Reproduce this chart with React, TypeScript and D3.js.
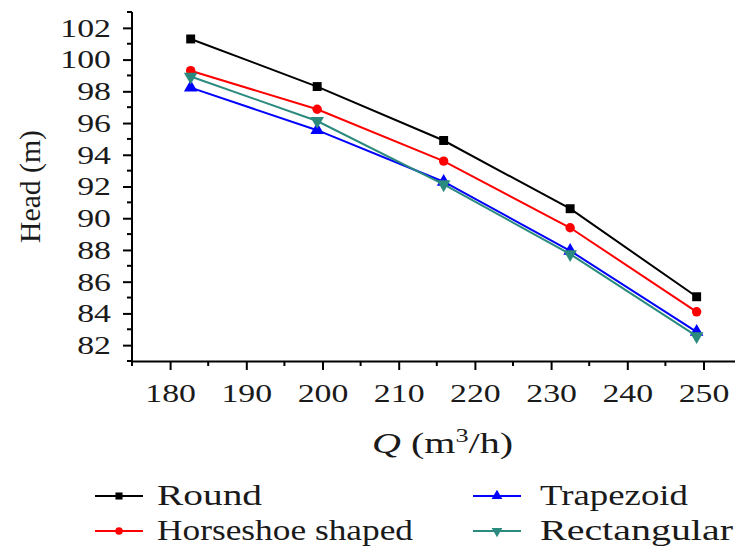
import React, { useRef, useEffect } from "react";
import * as d3 from "d3";

const W = 735;
const H = 547;

// flow rate Q (m3/h)
const flows = [182.7, 199.3, 215.9, 232.5, 249.1];

const seriesNames = ["Round", "Horseshoe shaped", "Trapezoid", "Rectangular"];
const roundHead = [101.3, 98.3, 94.9, 90.6, 85.05];
const horseshoeHead = [99.3, 96.87, 93.6, 89.4, 84.1];
const trapezoidHead = [98.23, 95.55, 92.3, 87.95, 82.84];
const rectangularHead = [98.93, 96.13, 92.14, 87.74, 82.57];

const xTicks = [180, 190, 200, 210, 220, 230, 240, 250];
const yTicks = [82, 84, 86, 88, 90, 92, 94, 96, 98, 100, 102];

const COLORS = ["#000000", "#ff0000", "#0000ff", "#2b8a7e"];
const SYMBOLS = [d3.symbolSquare, d3.symbolCircle, d3.symbolTriangle, d3.symbolTriangle];
const FONT = "'Liberation Serif', 'Times New Roman', serif";
const STRETCH = 1.3; // the reference type is wider than Times
// widths of the legend labels as they appear in the reference
const LEGEND_TEXT_W = [105, 256, 148, 193];

export default function App() {
  const svgRef = useRef<SVGSVGElement>(null);

  useEffect(() => {
    const svg = d3.select(svgRef.current);
    svg.selectAll("*").remove();

    const x = d3.scaleLinear().domain([175, 255]).range([132, 741.6]);
    const y = d3.scaleLinear().domain([81, 103]).range([361, 12]);

    const series = [roundHead, horseshoeHead, trapezoidHead, rectangularHead].map((vals, i) => ({
      name: seriesNames[i],
      color: COLORS[i],
      symbol: SYMBOLS[i],
      flip: i === 3,
      points: vals.map((v, j) => ({ q: flows[j], h: v })),
    }));

    // minor ticks
    const minorY = d3.range(81, 104, 2);
    const minorX = d3.range(175, 256, 10);

    svg
      .append("g")
      .selectAll("line")
      .data(minorY)
      .join("line")
      .attr("x1", 127)
      .attr("x2", 132)
      .attr("y1", (d) => y(d))
      .attr("y2", (d) => y(d))
      .attr("stroke", "#000")
      .attr("stroke-width", 2);

    svg
      .append("g")
      .selectAll("line")
      .data(minorX)
      .join("line")
      .attr("x1", (d) => x(d))
      .attr("x2", (d) => x(d))
      .attr("y1", 361)
      .attr("y2", 366)
      .attr("stroke", "#000")
      .attr("stroke-width", 2);

    // axes
    const yAxis = svg
      .append("g")
      .attr("transform", `translate(132,0)`)
      .call(d3.axisLeft(y).tickValues(yTicks).tickSize(9).tickPadding(12).tickSizeOuter(0));
    const xAxis = svg
      .append("g")
      .attr("transform", `translate(0,361)`)
      .call(d3.axisBottom(x).tickValues(xTicks).tickSize(9).tickPadding(14).tickSizeOuter(0));

    [yAxis, xAxis].forEach((ax) => {
      ax.select(".domain").attr("stroke", "#000").attr("stroke-width", 2);
      ax.selectAll(".tick line").attr("stroke", "#000").attr("stroke-width", 2);
      ax.selectAll("text")
        .attr("font-family", FONT)
        .attr("font-size", 26)
        .attr("fill", "#1a1a1a")
        .classed("stretch", true);
    });
    yAxis.select(".domain").attr("d", `M0,${y(81)}V${y(103)}`);

    // lines and markers
    const line = d3
      .line<{ q: number; h: number }>()
      .x((d) => x(d.q))
      .y((d) => y(d.h));

    series.forEach((s) => {
      svg
        .append("path")
        .datum(s.points)
        .attr("d", line)
        .attr("fill", "none")
        .attr("stroke", s.color)
        .attr("stroke-width", 2);
      svg
        .append("g")
        .selectAll("path")
        .data(s.points)
        .join("path")
        .attr("d", d3.symbol(s.symbol, s.symbol === d3.symbolCircle ? 70 : 80)())
        .attr("transform", (d) => `translate(${x(d.q)},${y(d.h)})${s.flip ? " rotate(180)" : ""}`)
        .attr("fill", s.color);
    });

    // axis titles
    svg
      .append("g")
      .attr("transform", "translate(40,243) rotate(-90)")
      .append("text")
      .attr("x", 0)
      .attr("y", 0)
      .style("font-family", FONT)
      .style("font-size", "30px")
      .attr("fill", "#1a1a1a")
      .attr("textLength", 113)
      .attr("lengthAdjust", "spacingAndGlyphs")
      .text("Head (m)");

    const xt = svg
      .append("text")
      .attr("x", 372)
      .attr("y", 453)
      .attr("font-family", FONT)
      .attr("font-size", 29)
      .attr("fill", "#1a1a1a")
      .attr("textLength", 141)
      .attr("lengthAdjust", "spacingAndGlyphs");
    xt.append("tspan").attr("font-style", "italic").text("Q");
    xt.append("tspan").text(" (m");
    xt.append("tspan").attr("font-size", 19).attr("dy", -11).text("3");
    xt.append("tspan").attr("dy", 11).text("/h)");

    // legend
    const legendPos = [
      { lx: 95, ty: 496 },
      { lx: 95, ty: 531 },
      { lx: 473, ty: 496 },
      { lx: 473, ty: 531 },
    ];
    series.forEach((s, i) => {
      const p = legendPos[i];
      const g = svg.append("g");
      g.append("line")
        .attr("x1", p.lx)
        .attr("x2", p.lx + 48)
        .attr("y1", p.ty)
        .attr("y2", p.ty)
        .attr("stroke", s.color)
        .attr("stroke-width", 2);
      g.append("path")
        .attr("d", d3.symbol(s.symbol, s.symbol === d3.symbolCircle ? 45 : 50)())
        .attr("transform", `translate(${p.lx + 24},${p.ty})${s.flip ? " rotate(180)" : ""}`)
        .attr("fill", s.color);
      g.append("text")
        .attr("x", p.lx + (i < 2 ? 62 : 67))
        .attr("y", p.ty + 9)
        .attr("font-family", FONT)
        .attr("font-size", 29)
        .attr("fill", "#1a1a1a")
        .attr("textLength", LEGEND_TEXT_W[i])
        .attr("lengthAdjust", "spacingAndGlyphs")
        .text(s.name);
    });

    // widen tick glyphs to match the reference type
    svg.selectAll<SVGTextElement, unknown>("text.stretch").each(function () {
      const len = this.getComputedTextLength();
      d3.select(this)
        .attr("textLength", len * STRETCH)
        .attr("lengthAdjust", "spacingAndGlyphs");
    });
  }, []);

  return (
    <svg
      ref={svgRef}
      width={W}
      height={H}
      style={{ position: "absolute", left: 0, top: 0, background: "#fff" }}
    />
  );
}
